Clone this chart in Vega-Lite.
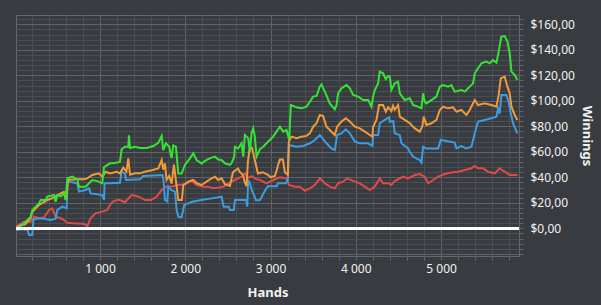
{
"$schema": "https://vega.github.io/schema/vega-lite/v6.json",
"width": 503, "height": 241,
"autosize": "none",
"padding": {"left": 16, "top": 15, "right": 82, "bottom": 49},
"background": "#383b40",
"config": {
  "view": {"stroke": "#64676c", "strokeWidth": 1, "fill": "#383b40"},
  "axis": {"labelFont": "Noto Sans", "titleFont": "Noto Sans", "labelColor": "#f2f2f2", "titleColor": "#f2f2f2", "labelFontSize": 12, "titleFontSize": 13, "titleFontWeight": "bold", "domain": false, "tickSize": 4, "tickColor": "#64676c", "gridWidth": 1, "labelOverlap": false, "labelBound": false, "tickCount": 200}
},
"data": {"values": [
{"s":"r","h":15,"v":0.5},{"s":"r","h":31,"v":1.8},{"s":"r","h":109,"v":5.2},{"s":"r","h":187,"v":5.2},{"s":"r","h":226,"v":9.2},{"s":"r","h":285,"v":7.9},{"s":"r","h":343,"v":8.5},{"s":"r","h":402,"v":14.4},{"s":"r","h":441,"v":15.7},{"s":"r","h":480,"v":9.2},{"s":"r","h":539,"v":7.9},{"s":"r","h":578,"v":6.5},{"s":"r","h":617,"v":4.4},{"s":"r","h":695,"v":3.9},{"s":"r","h":812,"v":3.5},{"s":"r","h":851,"v":1.8},{"s":"r","h":890,"v":7.9},{"s":"r","h":949,"v":11.8},{"s":"r","h":1027,"v":13.1},{"s":"r","h":1086,"v":14.4},{"s":"r","h":1117,"v":18.3},{"s":"r","h":1150,"v":21},{"s":"r","h":1203,"v":22.2},{"s":"r","h":1234,"v":22.2},{"s":"r","h":1293,"v":20.5},{"s":"r","h":1340,"v":24},{"s":"r","h":1371,"v":26.1},{"s":"r","h":1449,"v":25},{"s":"r","h":1527,"v":22.2},{"s":"r","h":1600,"v":22.2},{"s":"r","h":1664,"v":24.8},{"s":"r","h":1723,"v":30.1},{"s":"r","h":1781,"v":32.7},{"s":"r","h":1859,"v":33},{"s":"r","h":1918,"v":34},{"s":"r","h":1996,"v":34.5},{"s":"r","h":2074,"v":37.2},{"s":"r","h":2133,"v":34},{"s":"r","h":2211,"v":32.7},{"s":"r","h":2270,"v":32.7},{"s":"r","h":2330,"v":31.5},{"s":"r","h":2400,"v":32},{"s":"r","h":2460,"v":33},{"s":"r","h":2504,"v":35.3},{"s":"r","h":2582,"v":37.9},{"s":"r","h":2660,"v":40.5},{"s":"r","h":2699,"v":43.1},{"s":"r","h":2738,"v":39.5},{"s":"r","h":2777,"v":41},{"s":"r","h":2836,"v":38.5},{"s":"r","h":2875,"v":38},{"s":"r","h":2914,"v":36.6},{"s":"r","h":2953,"v":35.3},{"s":"r","h":3031,"v":37.9},{"s":"r","h":3110,"v":40},{"s":"r","h":3188,"v":39.2},{"s":"r","h":3219,"v":34},{"s":"r","h":3285,"v":32.7},{"s":"r","h":3344,"v":32.7},{"s":"r","h":3403,"v":29.5},{"s":"r","h":3461,"v":31.4},{"s":"r","h":3520,"v":34},{"s":"r","h":3578,"v":39.2},{"s":"r","h":3637,"v":35.3},{"s":"r","h":3695,"v":32.7},{"s":"r","h":3754,"v":31.4},{"s":"r","h":3793,"v":35.3},{"s":"r","h":3852,"v":36.6},{"s":"r","h":3899,"v":39.2},{"s":"r","h":3969,"v":37.2},{"s":"r","h":4047,"v":35.3},{"s":"r","h":4106,"v":32.7},{"s":"r","h":4164,"v":30},{"s":"r","h":4223,"v":32.7},{"s":"r","h":4281,"v":39.2},{"s":"r","h":4320,"v":35.3},{"s":"r","h":4391,"v":35.3},{"s":"r","h":4418,"v":34},{"s":"r","h":4457,"v":37},{"s":"r","h":4555,"v":40.5},{"s":"r","h":4613,"v":39.2},{"s":"r","h":4692,"v":41.8},{"s":"r","h":4750,"v":42.6},{"s":"r","h":4790,"v":41.2},{"s":"r","h":4809,"v":40.5},{"s":"r","h":4848,"v":35.3},{"s":"r","h":4907,"v":37.9},{"s":"r","h":4966,"v":40.5},{"s":"r","h":5043,"v":42.6},{"s":"r","h":5121,"v":43.7},{"s":"r","h":5200,"v":44.4},{"s":"r","h":5278,"v":45.8},{"s":"r","h":5356,"v":47.1},{"s":"r","h":5395,"v":48.9},{"s":"r","h":5434,"v":47.1},{"s":"r","h":5493,"v":47.1},{"s":"r","h":5551,"v":44.4},{"s":"r","h":5629,"v":43.1},{"s":"r","h":5688,"v":47.1},{"s":"r","h":5727,"v":45.2},{"s":"r","h":5766,"v":43.7},{"s":"r","h":5805,"v":41.8},{"s":"r","h":5895,"v":41.8},
{"s":"b","h":15,"v":0},{"s":"b","h":31,"v":-1.3},{"s":"b","h":100,"v":-0.8},{"s":"b","h":150,"v":-1.3},{"s":"b","h":168,"v":-5.2},{"s":"b","h":207,"v":-5.2},{"s":"b","h":218,"v":6.5},{"s":"b","h":265,"v":7.9},{"s":"b","h":343,"v":7.5},{"s":"b","h":422,"v":6.5},{"s":"b","h":480,"v":7.5},{"s":"b","h":500,"v":14.4},{"s":"b","h":558,"v":17},{"s":"b","h":609,"v":15.7},{"s":"b","h":617,"v":36.6},{"s":"b","h":695,"v":36},{"s":"b","h":734,"v":35.3},{"s":"b","h":754,"v":28.8},{"s":"b","h":832,"v":30.1},{"s":"b","h":871,"v":31.4},{"s":"b","h":890,"v":27.4},{"s":"b","h":949,"v":27},{"s":"b","h":1027,"v":26.1},{"s":"b","h":1047,"v":22.2},{"s":"b","h":1054,"v":35.3},{"s":"b","h":1117,"v":35.3},{"s":"b","h":1234,"v":35.8},{"s":"b","h":1254,"v":44.4},{"s":"b","h":1293,"v":43.1},{"s":"b","h":1305,"v":37.9},{"s":"b","h":1469,"v":38.4},{"s":"b","h":1508,"v":41},{"s":"b","h":1735,"v":41.8},{"s":"b","h":1750,"v":34},{"s":"b","h":1762,"v":22.2},{"s":"b","h":1789,"v":21},{"s":"b","h":1801,"v":32.7},{"s":"b","h":1840,"v":30},{"s":"b","h":1879,"v":28.8},{"s":"b","h":1899,"v":14.4},{"s":"b","h":1918,"v":9.2},{"s":"b","h":1957,"v":8.6},{"s":"b","h":1988,"v":18.3},{"s":"b","h":2035,"v":19.6},{"s":"b","h":2082,"v":20.9},{"s":"b","h":2191,"v":22.2},{"s":"b","h":2309,"v":23.5},{"s":"b","h":2426,"v":24.8},{"s":"b","h":2450,"v":17},{"s":"b","h":2510,"v":17},{"s":"b","h":2524,"v":14.4},{"s":"b","h":2570,"v":14.4},{"s":"b","h":2582,"v":22.2},{"s":"b","h":2715,"v":22.2},{"s":"b","h":2727,"v":17},{"s":"b","h":2738,"v":37.9},{"s":"b","h":2760,"v":35},{"s":"b","h":2780,"v":30},{"s":"b","h":2800,"v":27},{"s":"b","h":2830,"v":22},{"s":"b","h":2875,"v":22},{"s":"b","h":2899,"v":25},{"s":"b","h":2930,"v":29},{"s":"b","h":2969,"v":33},{"s":"b","h":3074,"v":33},{"s":"b","h":3086,"v":35.4},{"s":"b","h":3180,"v":35.4},{"s":"b","h":3203,"v":38},{"s":"b","h":3215,"v":65.3},{"s":"b","h":3305,"v":64},{"s":"b","h":3383,"v":64.6},{"s":"b","h":3461,"v":66.7},{"s":"b","h":3520,"v":69.3},{"s":"b","h":3578,"v":73.2},{"s":"b","h":3617,"v":70},{"s":"b","h":3656,"v":66.7},{"s":"b","h":3715,"v":62.7},{"s":"b","h":3754,"v":61.4},{"s":"b","h":3781,"v":73.2},{"s":"b","h":3832,"v":74.5},{"s":"b","h":3883,"v":77.6},{"s":"b","h":3930,"v":74.5},{"s":"b","h":3989,"v":68},{"s":"b","h":4047,"v":66.7},{"s":"b","h":4140,"v":66.7},{"s":"b","h":4195,"v":64.6},{"s":"b","h":4203,"v":73.2},{"s":"b","h":4262,"v":73.2},{"s":"b","h":4281,"v":82.4},{"s":"b","h":4340,"v":85},{"s":"b","h":4391,"v":87},{"s":"b","h":4399,"v":83.7},{"s":"b","h":4440,"v":84},{"s":"b","h":4457,"v":74.5},{"s":"b","h":4516,"v":73.2},{"s":"b","h":4535,"v":66.7},{"s":"b","h":4613,"v":62.7},{"s":"b","h":4633,"v":60.1},{"s":"b","h":4672,"v":56.2},{"s":"b","h":4711,"v":54.9},{"s":"b","h":4750,"v":53.6},{"s":"b","h":4770,"v":51.5},{"s":"b","h":4789,"v":64},{"s":"b","h":4828,"v":62.7},{"s":"b","h":4966,"v":62.7},{"s":"b","h":4996,"v":69.3},{"s":"b","h":5063,"v":68.5},{"s":"b","h":5160,"v":67.2},{"s":"b","h":5180,"v":62.7},{"s":"b","h":5239,"v":64.5},{"s":"b","h":5297,"v":62.7},{"s":"b","h":5356,"v":64},{"s":"b","h":5395,"v":74.5},{"s":"b","h":5434,"v":83.7},{"s":"b","h":5512,"v":85},{"s":"b","h":5590,"v":86.3},{"s":"b","h":5649,"v":87.6},{"s":"b","h":5668,"v":94.1},{"s":"b","h":5688,"v":90},{"s":"b","h":5707,"v":104.6},{"s":"b","h":5766,"v":104.6},{"s":"b","h":5793,"v":99.3},{"s":"b","h":5817,"v":90.2},{"s":"b","h":5844,"v":82.4},{"s":"b","h":5895,"v":74.5},
{"s":"o","h":15,"v":0},{"s":"o","h":31,"v":1},{"s":"o","h":70,"v":2.6},{"s":"o","h":120,"v":3},{"s":"o","h":187,"v":8},{"s":"o","h":207,"v":13},{"s":"o","h":285,"v":18.3},{"s":"o","h":382,"v":22.2},{"s":"o","h":461,"v":24},{"s":"o","h":500,"v":26.1},{"s":"o","h":578,"v":28.7},{"s":"o","h":609,"v":24.8},{"s":"o","h":625,"v":38},{"s":"o","h":734,"v":38.4},{"s":"o","h":812,"v":38.4},{"s":"o","h":851,"v":39.2},{"s":"o","h":910,"v":41.8},{"s":"o","h":988,"v":43.1},{"s":"o","h":1027,"v":40.5},{"s":"o","h":1066,"v":44.4},{"s":"o","h":1117,"v":43.1},{"s":"o","h":1195,"v":44.4},{"s":"o","h":1234,"v":43},{"s":"o","h":1273,"v":47.6},{"s":"o","h":1310,"v":44.5},{"s":"o","h":1332,"v":54.9},{"s":"o","h":1352,"v":42},{"s":"o","h":1410,"v":43.1},{"s":"o","h":1469,"v":43.1},{"s":"o","h":1527,"v":44.4},{"s":"o","h":1606,"v":45.6},{"s":"o","h":1684,"v":47},{"s":"o","h":1723,"v":53.6},{"s":"o","h":1742,"v":46},{"s":"o","h":1762,"v":51},{"s":"o","h":1781,"v":38},{"s":"o","h":1812,"v":41},{"s":"o","h":1840,"v":35},{"s":"o","h":1867,"v":50},{"s":"o","h":1899,"v":32.7},{"s":"o","h":1918,"v":22.2},{"s":"o","h":1960,"v":22.2},{"s":"o","h":1977,"v":34},{"s":"o","h":2035,"v":36.6},{"s":"o","h":2094,"v":37.9},{"s":"o","h":2133,"v":35.5},{"s":"o","h":2191,"v":34},{"s":"o","h":2250,"v":36.6},{"s":"o","h":2289,"v":38.4},{"s":"o","h":2348,"v":40.5},{"s":"o","h":2387,"v":37.9},{"s":"o","h":2426,"v":39.2},{"s":"o","h":2465,"v":34.7},{"s":"o","h":2524,"v":33.2},{"s":"o","h":2559,"v":44},{"s":"o","h":2617,"v":47},{"s":"o","h":2641,"v":44},{"s":"o","h":2676,"v":42},{"s":"o","h":2699,"v":36},{"s":"o","h":2719,"v":33},{"s":"o","h":2734,"v":52},{"s":"o","h":2758,"v":64},{"s":"o","h":2782,"v":63},{"s":"o","h":2800,"v":58},{"s":"o","h":2828,"v":50},{"s":"o","h":2852,"v":43},{"s":"o","h":2910,"v":44},{"s":"o","h":2969,"v":42},{"s":"o","h":3000,"v":40},{"s":"o","h":3051,"v":41},{"s":"o","h":3074,"v":46},{"s":"o","h":3090,"v":50},{"s":"o","h":3110,"v":54},{"s":"o","h":3145,"v":54},{"s":"o","h":3168,"v":44},{"s":"o","h":3203,"v":42},{"s":"o","h":3215,"v":68},{"s":"o","h":3246,"v":71.9},{"s":"o","h":3305,"v":70.6},{"s":"o","h":3364,"v":71.9},{"s":"o","h":3422,"v":72.5},{"s":"o","h":3461,"v":74.5},{"s":"o","h":3500,"v":79.7},{"s":"o","h":3539,"v":82.4},{"s":"o","h":3578,"v":88.9},{"s":"o","h":3617,"v":88},{"s":"o","h":3656,"v":79.7},{"s":"o","h":3715,"v":75.8},{"s":"o","h":3754,"v":73.2},{"s":"o","h":3781,"v":79.7},{"s":"o","h":3832,"v":83.7},{"s":"o","h":3883,"v":86.3},{"s":"o","h":3930,"v":83.7},{"s":"o","h":3989,"v":79.7},{"s":"o","h":4047,"v":78.4},{"s":"o","h":4106,"v":75.8},{"s":"o","h":4164,"v":73.2},{"s":"o","h":4195,"v":71.9},{"s":"o","h":4203,"v":79.7},{"s":"o","h":4242,"v":85},{"s":"o","h":4273,"v":96.7},{"s":"o","h":4320,"v":96.7},{"s":"o","h":4352,"v":91.5},{"s":"o","h":4380,"v":95},{"s":"o","h":4418,"v":92},{"s":"o","h":4437,"v":96},{"s":"o","h":4457,"v":93},{"s":"o","h":4496,"v":96.7},{"s":"o","h":4516,"v":87.6},{"s":"o","h":4574,"v":85},{"s":"o","h":4633,"v":82.4},{"s":"o","h":4692,"v":78.4},{"s":"o","h":4750,"v":75.8},{"s":"o","h":4780,"v":80},{"s":"o","h":4797,"v":87.6},{"s":"o","h":4828,"v":81.1},{"s":"o","h":4887,"v":82.4},{"s":"o","h":4946,"v":85},{"s":"o","h":4985,"v":92.8},{"s":"o","h":5024,"v":95.4},{"s":"o","h":5082,"v":94.1},{"s":"o","h":5141,"v":94.9},{"s":"o","h":5180,"v":91.5},{"s":"o","h":5239,"v":92.8},{"s":"o","h":5297,"v":88.9},{"s":"o","h":5336,"v":92.8},{"s":"o","h":5395,"v":100.6},{"s":"o","h":5434,"v":96.7},{"s":"o","h":5512,"v":98},{"s":"o","h":5590,"v":96.7},{"s":"o","h":5649,"v":95.4},{"s":"o","h":5676,"v":104.6},{"s":"o","h":5700,"v":117.6},{"s":"o","h":5746,"v":119},{"s":"o","h":5778,"v":111.1},{"s":"o","h":5805,"v":105.9},{"s":"o","h":5825,"v":95.4},{"s":"o","h":5864,"v":88.9},{"s":"o","h":5895,"v":85},
{"s":"g","h":15,"v":0},{"s":"g","h":31,"v":0},{"s":"g","h":89,"v":2.6},{"s":"g","h":187,"v":9.2},{"s":"g","h":207,"v":14.4},{"s":"g","h":285,"v":19.6},{"s":"g","h":304,"v":22.2},{"s":"g","h":363,"v":22.2},{"s":"g","h":382,"v":24.8},{"s":"g","h":461,"v":26.1},{"s":"g","h":480,"v":20.9},{"s":"g","h":500,"v":26},{"s":"g","h":539,"v":25},{"s":"g","h":578,"v":27.4},{"s":"g","h":597,"v":22.2},{"s":"g","h":617,"v":39.2},{"s":"g","h":675,"v":40.5},{"s":"g","h":734,"v":38.4},{"s":"g","h":754,"v":32.6},{"s":"g","h":832,"v":32.6},{"s":"g","h":871,"v":35.3},{"s":"g","h":910,"v":37.9},{"s":"g","h":968,"v":37},{"s":"g","h":1027,"v":35.3},{"s":"g","h":1047,"v":48},{"s":"g","h":1117,"v":51},{"s":"g","h":1156,"v":51},{"s":"g","h":1234,"v":52},{"s":"g","h":1254,"v":62},{"s":"g","h":1293,"v":64},{"s":"g","h":1332,"v":64},{"s":"g","h":1340,"v":73},{"s":"g","h":1352,"v":63},{"s":"g","h":1410,"v":64},{"s":"g","h":1469,"v":63},{"s":"g","h":1547,"v":63},{"s":"g","h":1625,"v":64.5},{"s":"g","h":1684,"v":67},{"s":"g","h":1723,"v":72.5},{"s":"g","h":1742,"v":61.4},{"s":"g","h":1773,"v":66.7},{"s":"g","h":1812,"v":64},{"s":"g","h":1840,"v":55},{"s":"g","h":1859,"v":65},{"s":"g","h":1890,"v":64},{"s":"g","h":1918,"v":43},{"s":"g","h":1957,"v":43},{"s":"g","h":1996,"v":49.7},{"s":"g","h":2055,"v":54.9},{"s":"g","h":2094,"v":58.8},{"s":"g","h":2133,"v":53.6},{"s":"g","h":2191,"v":50.9},{"s":"g","h":2250,"v":53.6},{"s":"g","h":2289,"v":54.9},{"s":"g","h":2348,"v":56.2},{"s":"g","h":2387,"v":54},{"s":"g","h":2426,"v":53.6},{"s":"g","h":2465,"v":51},{"s":"g","h":2524,"v":49.7},{"s":"g","h":2543,"v":51},{"s":"g","h":2574,"v":56.2},{"s":"g","h":2582,"v":64},{"s":"g","h":2621,"v":62.7},{"s":"g","h":2660,"v":66.7},{"s":"g","h":2680,"v":56.2},{"s":"g","h":2699,"v":73.2},{"s":"g","h":2738,"v":70.6},{"s":"g","h":2758,"v":60},{"s":"g","h":2777,"v":74.5},{"s":"g","h":2797,"v":78.4},{"s":"g","h":2816,"v":71.9},{"s":"g","h":2836,"v":56.2},{"s":"g","h":2875,"v":62},{"s":"g","h":2914,"v":64},{"s":"g","h":2953,"v":66.7},{"s":"g","h":2992,"v":69.3},{"s":"g","h":3031,"v":71.9},{"s":"g","h":3070,"v":75.8},{"s":"g","h":3110,"v":79.7},{"s":"g","h":3149,"v":75.8},{"s":"g","h":3188,"v":77.1},{"s":"g","h":3219,"v":69.3},{"s":"g","h":3238,"v":96.7},{"s":"g","h":3305,"v":94.9},{"s":"g","h":3364,"v":94.1},{"s":"g","h":3422,"v":95.4},{"s":"g","h":3461,"v":99.3},{"s":"g","h":3500,"v":103.3},{"s":"g","h":3539,"v":103.8},{"s":"g","h":3578,"v":111.1},{"s":"g","h":3598,"v":112.9},{"s":"g","h":3637,"v":107.2},{"s":"g","h":3695,"v":98},{"s":"g","h":3754,"v":93.3},{"s":"g","h":3774,"v":96.7},{"s":"g","h":3793,"v":105.9},{"s":"g","h":3832,"v":109.8},{"s":"g","h":3891,"v":112.4},{"s":"g","h":3930,"v":109.8},{"s":"g","h":3969,"v":104.6},{"s":"g","h":4028,"v":103.3},{"s":"g","h":4086,"v":100.6},{"s":"g","h":4145,"v":100.6},{"s":"g","h":4184,"v":95.4},{"s":"g","h":4203,"v":103.3},{"s":"g","h":4223,"v":108.5},{"s":"g","h":4262,"v":113.7},{"s":"g","h":4281,"v":122.9},{"s":"g","h":4320,"v":121.6},{"s":"g","h":4352,"v":116.9},{"s":"g","h":4380,"v":119.5},{"s":"g","h":4399,"v":119},{"s":"g","h":4418,"v":108.5},{"s":"g","h":4457,"v":113.7},{"s":"g","h":4496,"v":115},{"s":"g","h":4516,"v":105.9},{"s":"g","h":4574,"v":100.6},{"s":"g","h":4633,"v":102},{"s":"g","h":4672,"v":96.7},{"s":"g","h":4730,"v":95.4},{"s":"g","h":4770,"v":94.1},{"s":"g","h":4789,"v":105.9},{"s":"g","h":4809,"v":99.3},{"s":"g","h":4828,"v":98},{"s":"g","h":4887,"v":100.6},{"s":"g","h":4946,"v":103.3},{"s":"g","h":4985,"v":111.1},{"s":"g","h":5024,"v":112.4},{"s":"g","h":5082,"v":111.1},{"s":"g","h":5121,"v":112.4},{"s":"g","h":5160,"v":107.2},{"s":"g","h":5239,"v":108.5},{"s":"g","h":5278,"v":107.2},{"s":"g","h":5336,"v":111.1},{"s":"g","h":5375,"v":113.7},{"s":"g","h":5395,"v":121.6},{"s":"g","h":5434,"v":125.5},{"s":"g","h":5473,"v":129.4},{"s":"g","h":5532,"v":130.7},{"s":"g","h":5570,"v":129.4},{"s":"g","h":5610,"v":132},{"s":"g","h":5649,"v":129.9},{"s":"g","h":5676,"v":138.6},{"s":"g","h":5707,"v":150.3},{"s":"g","h":5746,"v":150.8},{"s":"g","h":5778,"v":146.4},{"s":"g","h":5805,"v":137.3},{"s":"g","h":5825,"v":122.9},{"s":"g","h":5864,"v":120.3},{"s":"g","h":5895,"v":116.3}
]},
"layer": [
  {
    "mark": {"type": "line", "strokeWidth": 2, "clip": true},
    "encoding": {
      "x": {"field": "h", "type": "quantitative",
        "scale": {"domain": [15, 5914], "nice": false, "zero": false},
        "axis": {"title": "Hands", "titlePadding": 12, "tickCount": 200,
          "values": [200,400,600,800,1000,1200,1400,1600,1800,2000,2200,2400,2600,2800,3000,3200,3400,3600,3800,4000,4200,4400,4600,4800,5000,5200,5400,5600,5800],
          "labelExpr": "datum.value % 1000 === 0 ? (datum.value / 1000) + ' 000' : ''",
          "labelPadding": 3,
          "gridColor": {"condition": {"test": "datum.value % 1000 === 0", "value": "#606368"}, "value": "#4a4d52"}}},
      "y": {"field": "v", "type": "quantitative",
        "scale": {"domain": [-21.7, 167.3], "nice": false, "zero": false},
        "axis": {"orient": "right", "title": "Winnings", "titlePadding": 5, "tickCount": 200,
          "values": [-20,-16,-12,-8,-4,0,4,8,12,16,20,24,28,32,36,40,44,48,52,56,60,64,68,72,76,80,84,88,92,96,100,104,108,112,116,120,124,128,132,136,140,144,148,152,156,160,164],
          "labelExpr": "datum.value % 20 === 0 && datum.value >= 0 ? '$' + datum.value + ',00' : ''",
          "labelPadding": 7,
          "gridColor": {"condition": {"test": "datum.value % 20 === 0", "value": "#606368"}, "value": "#4a4d52"}}},
      "color": {"field": "s", "type": "nominal",
        "scale": {"domain": ["r", "b", "o", "g"], "range": ["#e04a4a", "#3b9de0", "#f29a3a", "#35e335"]},
        "legend": null}
    }
  },
  {
    "mark": {"type": "rule", "color": "#ffffff", "strokeWidth": 2.5},
    "encoding": {"y": {"datum": 0}}
  }
]
}
